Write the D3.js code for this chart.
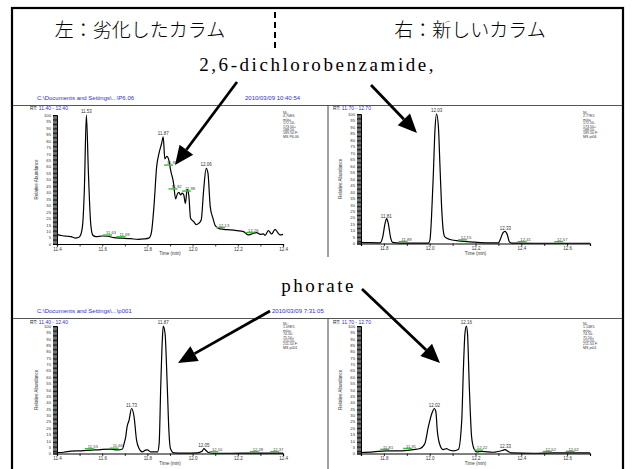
<!DOCTYPE html>
<html>
<head>
<meta charset="utf-8">
<script src="https://cdn.jsdelivr.net/npm/d3@7"></script>
<style>
  html, body { margin: 0; padding: 0; background: #fff; }
  svg { display: block; }
</style>
</head>
<body>
<svg id="fig" width="634" height="469"></svg>
<script>
// ---------- headings ----------
const headerLeft = "左：劣化したカラム";
const headerRight = "右：新しいカラム";
const compoundTop = "2,6-dichlorobenzamide,";
const compoundBottom = "phorate";

const topPathText = "C:\\Documents and Settings\\...\\P6.06";
const topDateText = "2010/03/09 10:40:54";
const bottomPathText = "C:\\Documents and Settings\\...\\p001";
const bottomDateText = "2010/03/09 7:31:05";

// ---------- axis ticks ----------
const yTickValues = [0, 5, 10, 15, 20, 25, 30, 35, 40, 45, 50, 55, 60, 65, 70, 75, 80, 85, 90, 95, 100];
const xTicksLeft = [11.4, 11.6, 11.8, 12.0, 12.2, 12.4];
const xTickLabelsLeft = ["11.4", "11.6", "11.8", "12.0", "12.2", "12.4"];
const xTicksRight = [11.8, 12.0, 12.2, 12.4, 12.6];
const xTickLabelsRight = ["11.8", "12.0", "12.2", "12.4", "12.6"];

// ---------- 2,6-dichlorobenzamide, degraded column (RT 11.40-12.40) ----------
const tlTime = [11.400, 11.425, 11.445, 11.462, 11.480, 11.495, 11.505, 11.514, 11.521, 11.530,
  11.539, 11.549, 11.558, 11.572, 11.600, 11.625, 11.652, 11.690, 11.726, 11.760,
  11.785, 11.806, 11.817, 11.829, 11.841, 11.851, 11.863, 11.870, 11.877, 11.886,
  11.895, 11.903, 11.915, 11.925, 11.933, 11.940, 11.947, 11.954, 11.961, 11.968,
  11.976, 11.983, 11.991, 12.005, 12.016, 12.027, 12.038, 12.049, 12.060, 12.068,
  12.078, 12.090, 12.101, 12.115, 12.137, 12.167, 12.196, 12.225, 12.247, 12.262,
  12.284, 12.300, 12.313, 12.321, 12.335, 12.350, 12.365, 12.379, 12.387, 12.400];
const tlAbund = [7.5, 6.4, 6.0, 5.7, 4.6, 5.0, 7.2, 16, 42, 100,
  55, 16, 7.0, 5.7, 6.2, 6.0, 4.9, 4.5, 4.1, 3.6,
  3.9, 4.5, 8.3, 29, 60, 70, 78, 83, 66, 68,
  65, 57, 48, 35, 39, 40, 38, 39.5, 38, 31.5,
  42.4, 38, 20, 17.3, 15, 16, 18.6, 42, 58.7, 55,
  29, 20, 14, 12.1, 11.4, 10.9, 10.3, 9.6, 7.0, 7.8,
  8.8, 7.5, 7.8, 6.7, 10.3, 7.8, 11.4, 8.3, 7.0, 7.5];
const tlPeaks = [11.53, 11.87, 12.06];
const tlMinor = [11.63, 11.69, 11.90, 11.92, 11.98, 12.13, 12.26];
const tlInfo = ["NL:", "4.70E6", "m/z=", "172.50-", "173.50+", "188.50-", "189.50 F:", "MS P6.06"];

// ---------- 2,6-dichlorobenzamide, new column (RT 11.70-12.70) ----------
const trTime = [11.700, 11.740, 11.783, 11.795, 11.805, 11.812, 11.819, 11.830, 11.838, 11.870,
  11.930, 11.994, 12.001, 12.008, 12.016, 12.023, 12.030, 12.038, 12.045, 12.052,
  12.059, 12.066, 12.088, 12.139, 12.197, 12.256, 12.300, 12.307, 12.319, 12.329,
  12.339, 12.348, 12.358, 12.452, 12.550, 12.700];
const trAbund = [0.8, 0.6, 0.5, 5.1, 15.5, 19.3, 15.5, 3.9, 0.8, 0.3,
  0.3, 0.3, 2.6, 20.6, 54.1, 87.6, 100, 90.2, 59.2, 28.3,
  10.3, 5.1, 3.1, 1.8, 1.0, 0.5, 0.5, 2.6, 8.0, 9.3,
  6.7, 1.3, 0.3, 0.2, 0.2, 0.2];
const trPeaks = [11.81, 12.03, 12.33];
const trMinor = [11.89, 12.15, 12.41, 12.57];
const trInfo = ["NL:", "2.77E5", "m/z=", "172.50-", "173.50+", "188.50-", "189.50 F:", "MS pt06"];

// ---------- phorate, degraded column (RT 11.40-12.40) ----------
const blTime = [11.400, 11.430, 11.462, 11.506, 11.550, 11.594, 11.638, 11.670, 11.690, 11.697,
  11.704, 11.710, 11.719, 11.730, 11.741, 11.752, 11.763, 11.777, 11.792, 11.800,
  11.814, 11.845, 11.852, 11.859, 11.866, 11.870, 11.878, 11.888, 11.895, 11.902,
  11.917, 11.961, 12.020, 12.042, 12.050, 12.058, 12.070, 12.090, 12.170, 12.280, 12.400];
const blAbund = [0.8, 1.0, 1.8, 2.1, 2.6, 3.1, 3.4, 2.8, 3.5, 7.9,
  13, 20.9, 26.2, 35.3, 28.8, 10.5, 3.9, 1.3, 2.6, 2.8,
  1.3, 1.3, 7.9, 52.4, 89, 100, 94.3, 52.4, 18.3, 3.9,
  0.5, 0.3, 0.5, 1.8, 3.9, 2.6, 0.8, 0.2, 0.2, 0.3, 0.3];
const blPeaks = [11.73, 11.87, 12.05];
const blMinor = [11.55, 11.66, 12.10, 12.28, 12.37];
const blInfo = ["NL:", "1.09E5", "m/z=", "74.50-", "75.50+", "210.50-", "211.50 F:", "MS p001"];

// ---------- phorate, new column (RT 11.70-12.70) ----------
const brTime = [11.700, 11.754, 11.812, 11.870, 11.928, 11.958, 11.979, 11.994, 12.012, 12.020,
  12.027, 12.033, 12.045, 12.059, 12.074, 12.081, 12.103, 12.125, 12.140, 12.147,
  12.154, 12.160, 12.165, 12.173, 12.183, 12.193, 12.205, 12.227, 12.278, 12.321,
  12.330, 12.338, 12.358, 12.452, 12.540, 12.700];
const brAbund = [0.8, 1.3, 2.1, 2.1, 3.1, 3.9, 7.9, 20.9, 32.7, 35.3,
  32.7, 18.3, 6.5, 3.1, 3.9, 3.1, 2.1, 3.1, 26.2, 65.5,
  94.3, 100, 94.3, 52.4, 13.1, 3.9, 1.3, 1.6, 1.0, 2.6,
  3.1, 2.1, 0.5, 0.2, 0.5, 0.5];
const brPeaks = [12.02, 12.16, 12.33];
const brMinor = [11.81, 11.91, 12.22, 12.52, 12.62];
const brInfo = ["NL:", "1.14E5", "m/z=", "74.50-", "75.50+", "210.50-", "211.50 F:", "MS pt01"];

// ---------- drawing ----------
const svg = d3.select("#fig");
const SANS = "'Liberation Sans', Arial, sans-serif";
const SERIF = "'Liberation Serif', 'DejaVu Serif', serif";
const CJK = "'Noto Sans CJK JP', sans-serif";
const BLUE = "#2e2ed0";
const GREEN = "#38c038";

svg.append("rect").attr("width", 634).attr("height", 469).attr("fill", "#fff");

// frame
svg.append("rect")
  .attr("x", 12).attr("y", 8).attr("width", 611).attr("height", 490)
  .attr("fill", "none").attr("stroke", "#000").attr("stroke-width", 2.2);

// column headings
svg.append("text").attr("x", 140).attr("y", 37).attr("text-anchor", "middle")
  .attr("font-family", CJK).attr("font-size", 19).attr("font-weight", 300)
  .text(headerLeft);
svg.append("text").attr("x", 470).attr("y", 37).attr("text-anchor", "middle")
  .attr("font-family", CJK).attr("font-size", 19).attr("font-weight", 300)
  .text(headerRight);
svg.append("line").attr("x1", 275).attr("x2", 275).attr("y1", 12).attr("y2", 50)
  .attr("stroke", "#000").attr("stroke-width", 2).attr("stroke-dasharray", "6,4");

// compound names, set on a fixed character pitch
const PITCH = 10.8;
function compound(text, cx, baseline) {
  const w = text.length * PITCH;
  svg.append("text").attr("x", cx - w / 2).attr("y", baseline)
    .attr("font-family", SERIF).attr("font-size", 19)
    .attr("textLength", w - PITCH * 0.3).attr("lengthAdjust", "spacing")
    .text(text);
}
compound(compoundTop, 318, 71);
compound(compoundBottom, 319, 292);

// file / date strips and dividers
function strip(pathText, dateText, textY, ruleY, dateX, dividerEnd) {
  svg.append("text").attr("x", 37).attr("y", textY).attr("fill", BLUE)
    .attr("font-family", SANS).attr("font-size", 6).text(pathText);
  svg.append("text").attr("x", dateX).attr("y", textY).attr("fill", BLUE)
    .attr("font-family", SANS).attr("font-size", 6).text(dateText);
  svg.append("line").attr("x1", 13).attr("x2", 622).attr("y1", ruleY).attr("y2", ruleY)
    .attr("stroke", "#555").attr("stroke-width", 1);
  svg.append("line").attr("x1", 328).attr("x2", 328).attr("y1", ruleY).attr("y2", dividerEnd)
    .attr("stroke", "#444").attr("stroke-width", 1);
}
strip(topPathText, topDateText, 100, 105.5, 245, 257);
strip(bottomPathText, bottomDateText, 313, 318.5, 272, 469);

function interp(times, vals, t) {
  const i = d3.bisectLeft(times, t);
  if (i <= 0) return vals[0];
  if (i >= times.length) return vals[vals.length - 1];
  const f = (t - times[i - 1]) / (times[i] - times[i - 1]);
  return vals[i - 1] + f * (vals[i] - vals[i - 1]);
}

function drawPanel(p) {
  const g = svg.append("g");
  const x = d3.scaleLinear().domain(p.domain).range([p.x0, p.x1]);
  const y = d3.scaleLinear().domain([0, 100]).range([p.yBase, p.yTop]);

  // 1 % ruler ticks on the ordinate
  const ruler = g.append("g").attr("transform", `translate(${p.x0},0)`)
    .call(d3.axisLeft(y).tickValues(d3.range(0, 101)).tickSize(4).tickFormat(""));
  ruler.select(".domain").attr("stroke", "#000").attr("stroke-width", 1);
  ruler.selectAll("line").attr("stroke", "#000").attr("stroke-width", 0.9);

  const yLab = g.append("g").attr("transform", `translate(${p.x0},0)`)
    .call(d3.axisLeft(y).tickValues(yTickValues).tickSize(0).tickPadding(6).tickFormat(d3.format("d")));
  yLab.select(".domain").remove();
  yLab.selectAll("text").attr("font-family", SANS).attr("font-size", 4.2).attr("fill", "#333");

  // abscissa
  const minor = d3.range(Math.round(p.domain[0] * 10), Math.round(p.domain[1] * 10) + 1).map(v => v / 10);
  const xa = g.append("g").attr("transform", `translate(0,${p.yBase})`)
    .call(d3.axisBottom(x).tickValues(minor).tickSize(2.5).tickFormat(""));
  xa.select(".domain").attr("stroke", "#000").attr("stroke-width", 1.2);
  xa.selectAll("line").attr("stroke", "#000").attr("stroke-width", 0.8);
  const xl = g.append("g").attr("transform", `translate(0,${p.yBase})`)
    .call(d3.axisBottom(x).tickValues(p.ticks).tickSize(0).tickPadding(3.5)
      .tickFormat((d, i) => p.tickLabels[i]));
  xl.select(".domain").remove();
  xl.selectAll("text").attr("font-family", SANS).attr("font-size", 4.5).attr("fill", "#333");

  g.append("text").attr("x", (p.x0 + p.x1) / 2).attr("y", p.yBase + 11)
    .attr("text-anchor", "middle").attr("font-family", SANS).attr("font-size", 4.5)
    .attr("fill", "#333").text("Time (min)");
  g.append("text")
    .attr("transform", `translate(${p.labelX},${(p.yBase + p.yTop) / 2}) rotate(-90)`)
    .attr("text-anchor", "middle").attr("font-family", SANS).attr("font-size", 4.5)
    .attr("fill", "#333").text("Relative Abundance");

  // RT range
  const rt = g.append("text").attr("x", p.rtX).attr("y", p.rtY)
    .attr("font-family", SANS).attr("font-size", 5);
  rt.append("tspan").attr("fill", "#222").text("RT: ");
  rt.append("tspan").attr("fill", BLUE).text(`${p.domain[0].toFixed(2)} - ${p.domain[1].toFixed(2)}`);

  // trace
  const pts = p.time.map((t, i) => [t, p.abund[i]]);
  g.append("path").datum(pts)
    .attr("d", d3.line().x(d => x(d[0])).y(d => y(d[1])).curve(d3.curveMonotoneX))
    .attr("fill", "none").attr("stroke", "#000").attr("stroke-width", 1.2)
    .attr("stroke-linejoin", "round");

  // integrated minor peaks (green)
  p.minor.forEach(t => {
    const v = interp(p.time, p.abund, t);
    const yy = y(v) - 1.5;
    g.append("line").attr("x1", x(t) - 6).attr("x2", x(t) + 3).attr("y1", yy).attr("y2", yy)
      .attr("stroke", GREEN).attr("stroke-width", 1.4);
    g.append("text").attr("x", x(t) + 2).attr("y", yy - 0.8).attr("text-anchor", "middle")
      .attr("font-family", SANS).attr("font-size", 4.2).attr("fill", "#444").text(t.toFixed(2));
  });
  // labelled apexes
  p.peaks.forEach(t => {
    const v = interp(p.time, p.abund, t);
    g.append("text").attr("x", x(t)).attr("y", y(v) - 1.8).attr("text-anchor", "middle")
      .attr("font-family", SANS).attr("font-size", 4.5).attr("fill", "#333").text(t.toFixed(2));
  });

  // acquisition info block
  p.info.forEach((s, i) => {
    g.append("text").attr("x", p.infoX).attr("y", p.infoY + i * 3.4)
      .attr("font-family", SANS).attr("font-size", 3.6).attr("fill", "#333").text(s);
  });
}

const layout = [
  { time: tlTime, abund: tlAbund, peaks: tlPeaks, minor: tlMinor, info: tlInfo,
    domain: [11.4, 12.4], ticks: xTicksLeft, tickLabels: xTickLabelsLeft,
    x0: 57, x1: 283, yTop: 115, yBase: 244, labelX: 38, rtX: 30, rtY: 110, infoX: 283, infoY: 114 },
  { time: trTime, abund: trAbund, peaks: trPeaks, minor: trMinor, info: trInfo,
    domain: [11.7, 12.7], ticks: xTicksRight, tickLabels: xTickLabelsRight,
    x0: 361, x1: 590, yTop: 114, yBase: 243.5, labelX: 342, rtX: 333, rtY: 110, infoX: 583, infoY: 114 },
  { time: blTime, abund: blAbund, peaks: blPeaks, minor: blMinor, info: blInfo,
    domain: [11.4, 12.4], ticks: xTicksLeft, tickLabels: xTickLabelsLeft,
    x0: 57, x1: 283, yTop: 326, yBase: 453.5, labelX: 38, rtX: 30, rtY: 323.5, infoX: 283, infoY: 325 },
  { time: brTime, abund: brAbund, peaks: brPeaks, minor: brMinor, info: brInfo,
    domain: [11.7, 12.7], ticks: xTicksRight, tickLabels: xTickLabelsRight,
    x0: 361, x1: 590, yTop: 326, yBase: 453.5, labelX: 342, rtX: 333, rtY: 323.5, infoX: 583, infoY: 325 }
];
layout.forEach(drawPanel);

// pointer arrows
const arrows = [
  { from: [237, 82], to: [175, 165] },
  { from: [371, 85], to: [417, 133] },
  { from: [270, 311], to: [178, 363] },
  { from: [362, 289], to: [440, 363] }
];
arrows.forEach(a => {
  const [x1, y1] = a.from, [x2, y2] = a.to;
  const ang = Math.atan2(y2 - y1, x2 - x1);
  const len = 19, half = 8.5;
  const bx = x2 - len * Math.cos(ang), by = y2 - len * Math.sin(ang);
  svg.append("line").attr("x1", x1).attr("y1", y1).attr("x2", bx).attr("y2", by)
    .attr("stroke", "#000").attr("stroke-width", 2.8);
  const nx = -Math.sin(ang), ny = Math.cos(ang);
  svg.append("polygon")
    .attr("points", [[x2, y2], [bx + nx * half, by + ny * half], [bx - nx * half, by - ny * half]].join(" "))
    .attr("fill", "#000");
});
</script>
</body>
</html>
